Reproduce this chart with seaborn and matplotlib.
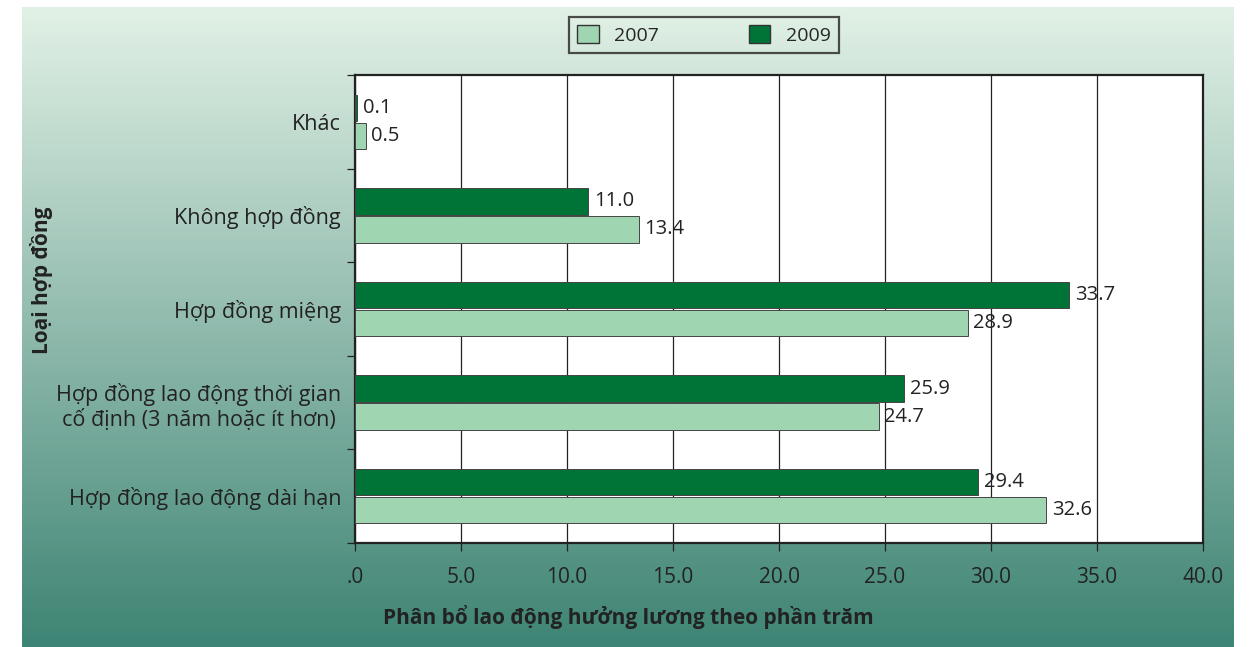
import numpy as np
import pandas as pd
import matplotlib
matplotlib.use("Agg")
import matplotlib.pyplot as plt
import seaborn as sns
from matplotlib.patches import Patch

categories = ["Khác", "Không hợp đồng", "Hợp đồng miệng",
              "Hợp đồng lao động thời gian\ncố định (3 năm hoặc ít hơn)",
              "Hợp đồng lao động dài hạn"]
vals_2007 = [0.5, 13.4, 28.9, 24.7, 32.6]
vals_2009 = [0.1, 11.0, 33.7, 25.9, 29.4]
years = ["2007", "2009"]
xticks = [0, 5, 10, 15, 20, 25, 30, 35, 40]
xtick_labels = [".0", "5.0", "10.0", "15.0", "20.0", "25.0", "30.0", "35.0", "40.0"]

df = pd.DataFrame({
    "cat": categories * 2,
    "year": ["2007"] * 5 + ["2009"] * 5,
    "val": vals_2007 + vals_2009,
})

sns.set_style("white")
plt.rcParams["font.family"] = ["Open Sans", "DejaVu Sans"]

W, H = 1249, 647
fig = plt.figure(figsize=(W / 100, H / 100), dpi=100)

# gradient background panel
bg = fig.add_axes([22 / W, 0, (1234 - 22) / W, (647 - 7) / H])
c_top = np.array([0.886, 0.945, 0.902])
c_bot = np.array([0.243, 0.518, 0.455])
t = np.linspace(0, 1, 256)[:, None]
grad = c_top + (c_bot - c_top) * t
bg.imshow(grad[:, None, :].repeat(2, axis=1), aspect="auto", extent=[0, 1, 0, 1])
bg.set_axis_off()

ax = fig.add_axes([355 / W, (H - 543) / H, 848 / W, 468 / H])
ax.set_facecolor("white")
colors = {"2007": "#9fd6b1", "2009": "#007436"}
sns.barplot(data=df, y="cat", x="val", hue="year", hue_order=["2009", "2007"],
            order=categories, palette=colors, saturation=1, orient="h", width=0.6, gap=0.06,
            edgecolor="#444444", linewidth=0.7, legend=False, ax=ax, zorder=3)

for cont in ax.containers:
    ax.bar_label(cont, fmt="%.1f", padding=4, fontsize=14.5, color="#222222")

ax.set_xlim(0, 40)
ax.set_xticks(xticks)
ax.set_xticklabels(xtick_labels, fontsize=15, color="#222222")
ax.xaxis.grid(True, color="#222222", linewidth=0.9, zorder=0)
ax.set_axisbelow(True)
ax.tick_params(axis="x", length=6, width=0.9, color="#222222", pad=11, direction="out", bottom=True)
ax.tick_params(axis="y", labelsize=15.5, labelcolor="#222222", length=0, pad=10)
ax.set_yticks(np.arange(-0.5, 5.0, 1.0), minor=True)
ax.tick_params(axis="y", which="minor", length=6, width=0.9, color="#222222", left=True)
for lbl in ax.get_yticklabels():
    lbl.set_horizontalalignment("right")
    lbl.set_multialignment("center")

for sp in ax.spines.values():
    sp.set_visible(True)
    sp.set_color("#222222")
    sp.set_linewidth(1.6)

ax.set_ylabel("")
ax.set_xlabel("")
fig.text(42 / W, 1 - 280 / H, "Loại hợp đồng", rotation=90, ha="center", va="center",
         fontsize=15, fontweight="bold", color="#222222")
fig.text(628 / W, 1 - 617 / H, "Phân bổ lao động hưởng lương theo phần trăm",
         ha="center", va="center", fontsize=15, fontweight="bold", color="#222222")

handles = [Patch(facecolor=colors[y], edgecolor="#333333", label=y) for y in years]
leg = fig.legend(handles=handles, loc="center", bbox_to_anchor=(704 / W, 1 - 35 / H),
                 ncol=2, frameon=True, fontsize=14, columnspacing=4.6,
                 handlelength=1.1, handleheight=1.0, borderpad=0.45, fancybox=False)
leg.get_frame().set_edgecolor("#222222")
leg.get_frame().set_linewidth(1.6)
leg.get_frame().set_facecolor("none")

fig.savefig("out.png", dpi=100)
